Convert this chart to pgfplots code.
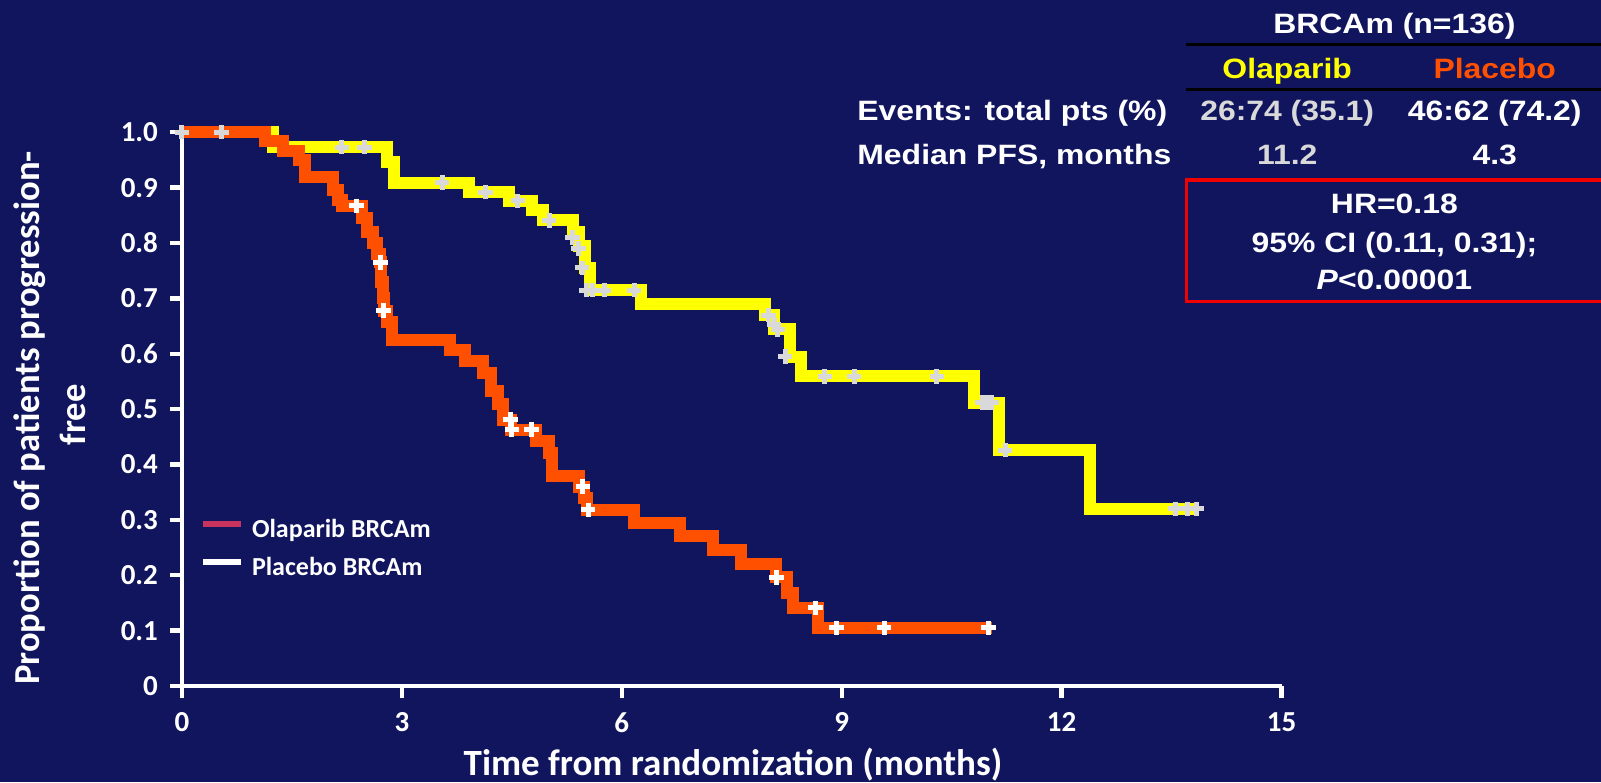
\documentclass[border=0pt]{standalone}
\usepackage{fontspec}
\setmainfont{Carlito}
\newfontfamily\tabfont{Liberation Sans}[FakeStretch=1.14]
\usepackage{pgfplots}
\pgfplotsset{compat=1.18}
\definecolor{bg}{HTML}{10155E}
\definecolor{olayel}{HTML}{FFFF00}
\definecolor{plaor}{HTML}{FF5000}
\definecolor{cgray}{HTML}{D9D9D9}
\definecolor{legpink}{HTML}{C8325F}
\definecolor{boxred}{HTML}{F00000}
\begin{document}
\begin{tikzpicture}
\fill[bg] (0pt,0pt) rectangle (800.5pt,391pt);
\begin{axis}[
  at={(91pt,48pt)}, anchor=south west,
  x=36.65pt, y=276.85pt,
  xmin=0, xmax=15, ymin=0, ymax=1.01,
  axis lines=left,
  axis line style={white, line width=2.2pt, -},
  tick style={white, line width=2.2pt},
  major tick length=6pt, tick align=outside,
  xtick={0,3,6,9,12,15}, xticklabels={0,3,6,9,12,15},
  ytick={0,0.1,0.2,0.3,0.4,0.5,0.6,0.7,0.8,0.9,1.0},
  yticklabels={0,0.1,0.2,0.3,0.4,0.5,0.6,0.7,0.8,0.9,1.0},
  ticklabel style={font=\bfseries\fontsize{14.5}{17}\selectfont, text=white},
  yticklabel style={xshift=-2.5pt},
  xticklabel style={yshift=-3.7pt},
  /pgf/number format/assume math mode=true,
  clip=false,
  legend cell align=left,
  legend style={draw=none, fill=none, inner sep=0pt, outer sep=0pt,
    at={(0.01637,0.3015)}, anchor=north west, row sep=6pt,
    font=\bfseries\fontsize{13}{15}\selectfont, text=white,
    nodes={inner sep=0pt, text height=10pt, text depth=3pt},
    /tikz/every odd column/.append style={column sep=4pt}},
  legend image code/.code={\draw[#1] (0pt,3pt) -- (19pt,3pt);},
]
\addplot[const plot, olayel, line width=6pt, line join=miter, forget plot] coordinates {
(0,1.0) (1.24,0.973) (2.79,0.946) (2.89,0.909) (3.92,0.892) (4.46,0.876) (4.77,0.859) (4.92,0.841) (5.33,0.82) (5.42,0.795) (5.50,0.755) (5.57,0.715) (6.26,0.69) (7.95,0.67) (8.07,0.644) (8.30,0.595) (8.45,0.559) (10.80,0.512) (11.14,0.426) (12.39,0.32) (13.84,0.32)
};
\addplot[const plot, plaor, line width=6pt, line join=miter, forget plot] coordinates {
(0,1.0) (1.13,0.984) (1.38,0.966) (1.60,0.95) (1.68,0.919) (2.06,0.895) (2.13,0.877) (2.18,0.867) (2.45,0.845) (2.53,0.82) (2.60,0.80) (2.66,0.78) (2.70,0.765) (2.72,0.73) (2.74,0.70) (2.76,0.678) (2.80,0.658) (2.86,0.625) (3.65,0.607) (3.86,0.587) (4.11,0.565) (4.22,0.533) (4.31,0.51) (4.38,0.481) (4.49,0.463) (4.83,0.443) (5.01,0.42) (5.05,0.38) (5.42,0.36) (5.48,0.34) (5.53,0.318) (6.17,0.294) (6.80,0.270) (7.24,0.245) (7.63,0.220) (8.11,0.196) (8.26,0.168) (8.33,0.141) (8.67,0.105) (11.05,0.105)
};
\addplot[only marks, mark=+, mark size=3.6pt, cgray, mark options={line width=2.5pt}, forget plot] coordinates {
(0,1) (0.54,1) (2.18,0.973) (2.49,0.973) (3.55,0.909) (4.14,0.892) (4.58,0.876) (5.01,0.841) (5.33,0.81) (5.41,0.79) (5.46,0.755) (5.52,0.715) (5.60,0.715) (5.76,0.715) (6.17,0.715) (8.00,0.67) (8.08,0.652) (8.13,0.644) (8.23,0.595) (8.77,0.559) (9.17,0.559) (10.30,0.559) (10.92,0.512) (10.98,0.512) (11.05,0.512) (11.23,0.426) (13.55,0.32) (13.72,0.32) (13.84,0.32)
};
\addplot[only marks, mark=+, mark size=3.6pt, white, mark options={line width=2.5pt}, forget plot] coordinates {
(2.38,0.867) (2.71,0.765) (2.75,0.678) (4.48,0.481) (4.50,0.463) (4.77,0.463) (5.47,0.36) (5.54,0.318) (8.11,0.196) (8.64,0.141) (8.93,0.105) (9.58,0.105) (11.0,0.105)
};
\addlegendimage{legpink, line width=3pt}
\addlegendentry{Olaparib BRCAm}
\addlegendimage{white, line width=3pt}
\addlegendentry{Placebo BRCAm}
\end{axis}
% axis titles
\node[rotate=90, anchor=base, inner sep=0pt, text=white, font=\bfseries\fontsize{18.3}{22}\selectfont] at (20pt,182pt) {Proportion of patients progression-};
\node[rotate=90, anchor=base, inner sep=0pt, text=white, font=\bfseries\fontsize{18.3}{22}\selectfont] at (42.5pt,183.5pt) {free};
\node[anchor=base, inner sep=0pt, text=white, font=\bfseries\fontsize{18.5}{22}\selectfont] at (366.5pt,3.5pt) {Time from randomization (months)};
% table
\begin{scope}[every node/.style={inner sep=0pt, font=\tabfont\bfseries\fontsize{14}{17}\selectfont}]
\node[anchor=base, text=white] at (697.2pt,374pt) {BRCAm (n=136)};
\draw[black, line width=1.35pt] (593.2pt,368.85pt) -- (802pt,368.85pt);
\node[anchor=base, text=olayel] at (643.6pt,351.5pt) {Olaparib};
\node[anchor=base, text=plaor] at (747.35pt,351.5pt) {Placebo};
\draw[black, line width=1.35pt] (593.2pt,346.35pt) -- (802pt,346.35pt);
\node[anchor=base west, text=white] at (428.5pt,330.5pt) {Events: total pts (\%)};
\node[anchor=base, text=cgray] at (643.6pt,330.5pt) {26:74 (35.1)};
\node[anchor=base, text=white] at (747.35pt,330.5pt) {46:62 (74.2)};
\node[anchor=base west, text=white] at (428.5pt,308.5pt) {Median PFS, months};
\node[anchor=base, text=cgray] at (643.6pt,308.5pt) {11.2};
\node[anchor=base, text=white] at (747.35pt,308.5pt) {4.3};
\draw[boxred, line width=1.7pt] (805pt,301pt) -- (593.2pt,301pt) -- (593.2pt,240.15pt) -- (805pt,240.15pt);
\node[anchor=base, text=white] at (697.2pt,284pt) {HR=0.18};
\node[anchor=base, text=white] at (697.2pt,264.5pt) {95\% CI (0.11, 0.31);};
\node[anchor=base, text=white] at (697.2pt,246pt) {\textit{P}<0.00001};
\end{scope}
\pgfresetboundingbox
\path (0pt,0pt) rectangle (800.5pt,391pt);
\end{tikzpicture}
\end{document}
